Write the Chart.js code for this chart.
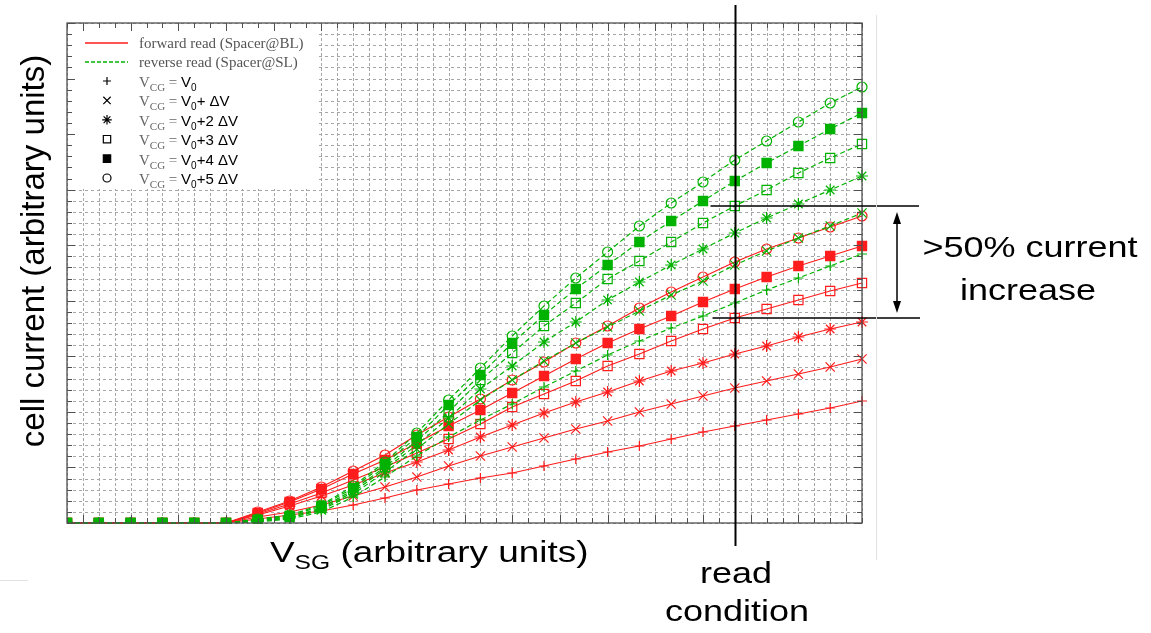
<!DOCTYPE html>
<html>
<head>
<meta charset="utf-8">
<script src="https://cdn.jsdelivr.net/npm/chart.js@4.4.1/dist/chart.umd.min.js"></script>
<style>
  html, body { margin: 0; padding: 0; background: #fff; overflow: hidden; }
  canvas { display: block; }
</style>
</head>
<body>
<canvas id="chart" width="1151" height="633"></canvas>
<script>
// Select-gate sweep points (arbitrary units)
const vsg = [0,1,2,3,4,5,6,7,8,9,10,11,12,13,14,15,16,17,18,19,20,21,22,23,24,25];

// Forward read (spacer at bit line), one curve per control-gate step
const forwardV0 = [0,0,0,0,0,0,0.36,0.72,1.08,1.62,2.25,2.97,3.51,4.05,4.5,5.13,5.76,6.39,6.93,7.56,8.19,8.73,9.27,9.81,10.35,10.98];
const forwardV1 = [0,0,0,0,0,0,0.54,0.99,1.62,2.43,3.24,4.14,5.13,6.03,6.84,7.65,8.46,9.18,9.99,10.71,11.43,12.15,12.78,13.41,14.04,14.76];
const forwardV2 = [0,0,0,0,0,0,0.72,1.53,2.43,3.42,4.5,5.49,6.57,7.74,8.82,9.9,10.89,11.79,12.78,13.68,14.4,15.21,15.93,16.74,17.46,18.09];
const forwardV3 = [0,0,0,0,0,0,0.81,1.71,2.7,3.87,5.04,6.3,7.56,8.91,10.44,11.61,12.78,14.13,15.21,16.38,17.46,18.45,19.26,20.07,20.88,21.6];
const forwardV4 = [0,0,0,0,0,0,0.9,1.89,3.06,4.41,5.67,7.2,8.73,10.17,11.7,13.23,14.76,16.2,17.46,18.63,19.89,21.06,22.14,23.13,24.03,24.93];
const forwardV5 = [0,0,0,0,0,0,0.99,1.98,3.24,4.68,6.12,7.92,9.54,11.16,12.87,14.49,16.2,17.73,19.35,20.79,22.14,23.49,24.66,25.65,26.64,27.63];

// Reverse read (spacer at source line)
const reverseV0 = [0,0,0,0,0,0,0.09,0.36,0.99,2.34,4.14,6.03,7.74,9.27,10.71,12.24,13.68,15.12,16.38,17.55,18.63,19.8,20.97,22.05,23.13,24.21];
const reverseV1 = [0,0,0,0,0,0,0.18,0.45,1.17,2.61,4.59,6.66,8.91,11.07,12.87,14.58,16.2,17.64,19.08,20.52,21.78,23.22,24.48,25.65,26.73,27.9];
const reverseV2 = [0,0,0,0,0,0,0.18,0.45,1.26,2.79,4.86,7.02,9.45,12.06,14.13,16.29,18.09,20.07,21.69,23.22,24.66,26.1,27.45,28.71,29.97,31.23];
const reverseV3 = [0,0,0,0,0,0,0.27,0.54,1.35,2.97,5.04,7.38,9.99,12.87,15.3,17.73,19.8,21.96,23.58,25.29,27.0,28.53,29.97,31.5,32.85,34.11];
const reverseV4 = [0,0,0,0,0,0,0.27,0.63,1.53,3.15,5.31,7.74,10.62,13.32,16.2,18.72,21.06,23.22,25.29,27.18,28.98,30.78,32.4,33.93,35.46,36.9];
const reverseV5 = [0,0,0,0,0,0,0.36,0.72,1.62,3.33,5.49,8.1,11.07,13.95,16.83,19.53,22.05,24.39,26.73,28.8,30.69,32.67,34.38,36.09,37.8,39.24];

// Control-gate step labels (suffix after "V0")
const stepLabels = ['', '+ \u0394V', '+2 \u0394V', '+3 \u0394V', '+4 \u0394V', '+5 \u0394V'];
const modeLabels = ['forward read (Spacer@BL)', 'reverse read (Spacer@SL)'];
const readIndex = 21;   // read condition on the V_SG sweep

const forwardSeries = [forwardV0, forwardV1, forwardV2, forwardV3, forwardV4, forwardV5];
const reverseSeries = [reverseV0, reverseV1, reverseV2, reverseV3, reverseV4, reverseV5];

const RED = 'rgb(255,28,28)';
const GREEN = 'rgb(0,178,0)';
const CLEAR = 'rgba(0,0,0,0)';
const markers = [
  { style: 'cross',    radius: 5,   filled: false },
  { style: 'crossRot', radius: 6.5, filled: false },
  { style: 'star',     radius: 6,   filled: false },
  { style: 'rect',     radius: 6.5, filled: false },
  { style: 'rect',     radius: 6.5, filled: true  },
  { style: 'circle',   radius: 5,   filled: false }
];

function makeDataset(values, k, color, dashed, label) {
  const m = markers[k];
  return {
    label: label,
    data: vsg.map((x, i) => ({ x: x, y: values[i] })),
    borderColor: color,
    borderWidth: 1.2,
    borderDash: dashed ? [5, 3] : [],
    pointStyle: m.style,
    pointRadius: m.radius,
    pointBorderWidth: 1.2,
    pointBorderColor: color,
    pointBackgroundColor: m.filled ? color : CLEAR,
    tension: 0,
    order: dashed ? 0 : 1,
    clip: { left: 0, top: false, right: false, bottom: 1 }
  };
}

const datasets = [];
forwardSeries.forEach((s, k) => datasets.push(makeDataset(s, k, RED, false, modeLabels[0] + ' ' + k)));
reverseSeries.forEach((s, k) => datasets.push(makeDataset(s, k, GREEN, true, modeLabels[1] + ' ' + k)));

// Draws a sequence of text runs, each with its own font / colour / vertical shift
function drawRuns(ctx, runs, x, y, sx) {
  let cx = x;
  runs.forEach(r => {
    ctx.save();
    ctx.font = r.font;
    ctx.fillStyle = r.color || '#000';
    ctx.textAlign = 'left';
    ctx.textBaseline = 'alphabetic';
    ctx.translate(cx, y + (r.dy || 0));
    ctx.scale(sx, 1);
    ctx.fillText(r.t, 0, 0);
    const w = ctx.measureText(r.t).width * sx;
    ctx.restore();
    cx += w;
  });
}

function centerText(ctx, s, x, y, font, sx) {
  ctx.save();
  ctx.font = font;
  ctx.fillStyle = '#000';
  ctx.textAlign = 'center';
  ctx.textBaseline = 'alphabetic';
  ctx.translate(x, y);
  ctx.scale(sx, 1);
  ctx.fillText(s, 0, 0);
  ctx.restore();
}

const SANS = '"Liberation Sans", Arial, sans-serif';
const SERIF = '"Liberation Serif", "Times New Roman", serif';

const decorations = {
  id: 'decorations',
  beforeDatasetsDraw(chart) {
    const ctx = chart.ctx;
    const a = chart.chartArea;
    const xs = chart.scales.x, ys = chart.scales.y;
    ctx.save();
    ctx.strokeStyle = '#a6a6a6';
    ctx.lineWidth = 1;
    // vertical grid every half step
    ctx.setLineDash([3, 2]);
    for (let v = xs.min; v <= xs.max + 1e-9; v += 0.5) {
      const px = Math.round(xs.getPixelForValue(v)) + 0.5;
      ctx.beginPath(); ctx.moveTo(px, a.top); ctx.lineTo(px, a.bottom); ctx.stroke();
    }
    // horizontal grid every unit
    ctx.setLineDash([3, 3]);
    for (let v = ys.min; v <= ys.max + 1e-9; v += 1) {
      const py = Math.round(ys.getPixelForValue(v)) + 0.5;
      ctx.beginPath(); ctx.moveTo(a.left, py); ctx.lineTo(a.right, py); ctx.stroke();
    }
    ctx.setLineDash([]);
    // legend panel
    ctx.fillStyle = '#fff';
    ctx.fillRect(a.left + 1, a.top + 1, 250, 165);
    ctx.restore();
  },
  afterDatasetsDraw(chart) {
    const ctx = chart.ctx;
    const a = chart.chartArea;
    const xs = chart.scales.x, ys = chart.scales.y;
    ctx.save();

    // frame with inward ticks
    ctx.strokeStyle = '#505050';
    ctx.lineWidth = 1.3;
    ctx.strokeRect(a.left, a.top, a.right - a.left, a.bottom - a.top);
    ctx.lineWidth = 1;
    let n = 0;
    for (let v = xs.min; v <= xs.max + 1e-9; v += 0.5, n++) {
      const px = Math.round(xs.getPixelForValue(v)) + 0.5;
      const L = (n % 3 === 1) ? 8 : 5;
      ctx.beginPath();
      ctx.moveTo(px, a.top); ctx.lineTo(px, a.top + L);
      ctx.moveTo(px, a.bottom); ctx.lineTo(px, a.bottom - L);
      ctx.stroke();
    }
    n = 0;
    for (let v = ys.min; v <= ys.max + 1e-9; v += 1, n++) {
      const py = Math.round(ys.getPixelForValue(v)) + 0.5;
      const L = (n % 5 === 0) ? 8 : 5;
      ctx.beginPath();
      ctx.moveTo(a.left, py); ctx.lineTo(a.left + L, py);
      ctx.moveTo(a.right, py); ctx.lineTo(a.right - L, py);
      ctx.stroke();
    }

    // legend
    const lx = a.left + 18, tx = a.left + 72;
    ctx.lineWidth = 1.5;
    ctx.strokeStyle = RED;
    ctx.beginPath(); ctx.moveTo(lx, 43); ctx.lineTo(lx + 43, 43); ctx.stroke();
    ctx.strokeStyle = GREEN;
    ctx.setLineDash([4, 2]);
    ctx.beginPath(); ctx.moveTo(lx, 62); ctx.lineTo(lx + 43, 62); ctx.stroke();
    ctx.setLineDash([]);
    drawRuns(ctx, [{ t: modeLabels[0], font: '15px ' + SERIF, color: '#555' }], tx, 48, 1);
    drawRuns(ctx, [{ t: modeLabels[1], font: '15px ' + SERIF, color: '#555' }], tx, 67, 1);
    stepLabels.forEach((s, k) => {
      const y = 81 + k * 19.4;
      const m = markers[k];
      ctx.strokeStyle = '#000';
      ctx.fillStyle = m.filled ? '#000' : CLEAR;
      ctx.lineWidth = 1.2;
      Chart.helpers.drawPoint(ctx, { pointStyle: m.style, radius: m.radius * 0.8, rotation: 0, borderWidth: 1.2 }, a.left + 40, y);
      drawRuns(ctx, [
        { t: 'V', font: '15px ' + SERIF, color: '#666' },
        { t: 'CG', font: '11px ' + SERIF, color: '#666', dy: 4 },
        { t: ' = ', font: '15px ' + SERIF, color: '#666' },
        { t: 'V', font: '15px ' + SANS, color: '#000' },
        { t: '0', font: '10px ' + SANS, color: '#000', dy: 4 },
        { t: s, font: '15px ' + SANS, color: '#000' }
      ], tx, y + 6, 1);
    });

    // read condition marker line
    const rx = Math.round(xs.getPixelForValue(vsg[readIndex])) + 0.5;
    ctx.strokeStyle = '#000';
    ctx.lineWidth = 2;
    ctx.beginPath(); ctx.moveTo(rx, 5); ctx.lineTo(rx, 546); ctx.stroke();

    // current increase bracket at the read condition
    const yHi = ys.getPixelForValue(reverseV3[readIndex]);
    const yLo = ys.getPixelForValue(forwardV3[readIndex]);
    ctx.lineWidth = 1.5;
    ctx.beginPath();
    ctx.moveTo(rx - 25, yHi); ctx.lineTo(919, yHi);
    ctx.moveTo(rx - 23, yLo); ctx.lineTo(920, yLo);
    ctx.stroke();
    const ax = 897;
    const aTop = yHi + 6, aBot = yLo - 5;
    ctx.beginPath(); ctx.moveTo(ax, aTop + 4); ctx.lineTo(ax, aBot - 4); ctx.stroke();
    ctx.fillStyle = '#000';
    ctx.beginPath(); ctx.moveTo(ax, aTop); ctx.lineTo(ax - 4, aTop + 12); ctx.lineTo(ax + 4, aTop + 12); ctx.closePath(); ctx.fill();
    ctx.beginPath(); ctx.moveTo(ax, aBot); ctx.lineTo(ax - 4, aBot - 12); ctx.lineTo(ax + 4, aBot - 12); ctx.closePath(); ctx.fill();

    // faint page edges
    ctx.strokeStyle = '#e2e2e2';
    ctx.lineWidth = 1;
    ctx.beginPath(); ctx.moveTo(876.5, 15); ctx.lineTo(876.5, 560); ctx.stroke();
    ctx.beginPath(); ctx.moveTo(0, 580.5); ctx.lineTo(28, 580.5); ctx.stroke();

    // annotation texts
    centerText(ctx, '>50% current', 1030, 257, '30px ' + SANS, 1.2);
    centerText(ctx, 'increase', 1028, 300, '30px ' + SANS, 1.2);
    centerText(ctx, 'read', 736, 583, '30px ' + SANS, 1.2);
    centerText(ctx, 'condition', 737, 621, '30px ' + SANS, 1.2);

    // axis titles
    drawRuns(ctx, [
      { t: 'V', font: '30px ' + SANS },
      { t: 'SG', font: '20px ' + SANS, dy: 7 },
      { t: ' (arbitrary units)', font: '30px ' + SANS }
    ], 270, 562, 1.23);
    ctx.save();
    ctx.translate(44, 251);
    ctx.rotate(-Math.PI / 2);
    ctx.font = '33px ' + SANS;
    ctx.fillStyle = '#000';
    ctx.textAlign = 'center';
    ctx.textBaseline = 'alphabetic';
    ctx.fillText('cell current (arbitrary units)', 0, 0);
    ctx.restore();

    ctx.restore();
  }
};

new Chart(document.getElementById('chart'), {
  type: 'line',
  data: { datasets: datasets },
  options: {
    responsive: false,
    animation: false,
    devicePixelRatio: 1,
    layout: { padding: { left: 67, top: 23, right: 289, bottom: 110 } },
    scales: {
      x: { type: 'linear', min: 0, max: 25, display: false },
      y: { type: 'linear', min: 0, max: 45, display: false }
    },
    plugins: { legend: { display: false }, tooltip: { enabled: false } }
  },
  plugins: [decorations]
});
</script>
</body>
</html>
